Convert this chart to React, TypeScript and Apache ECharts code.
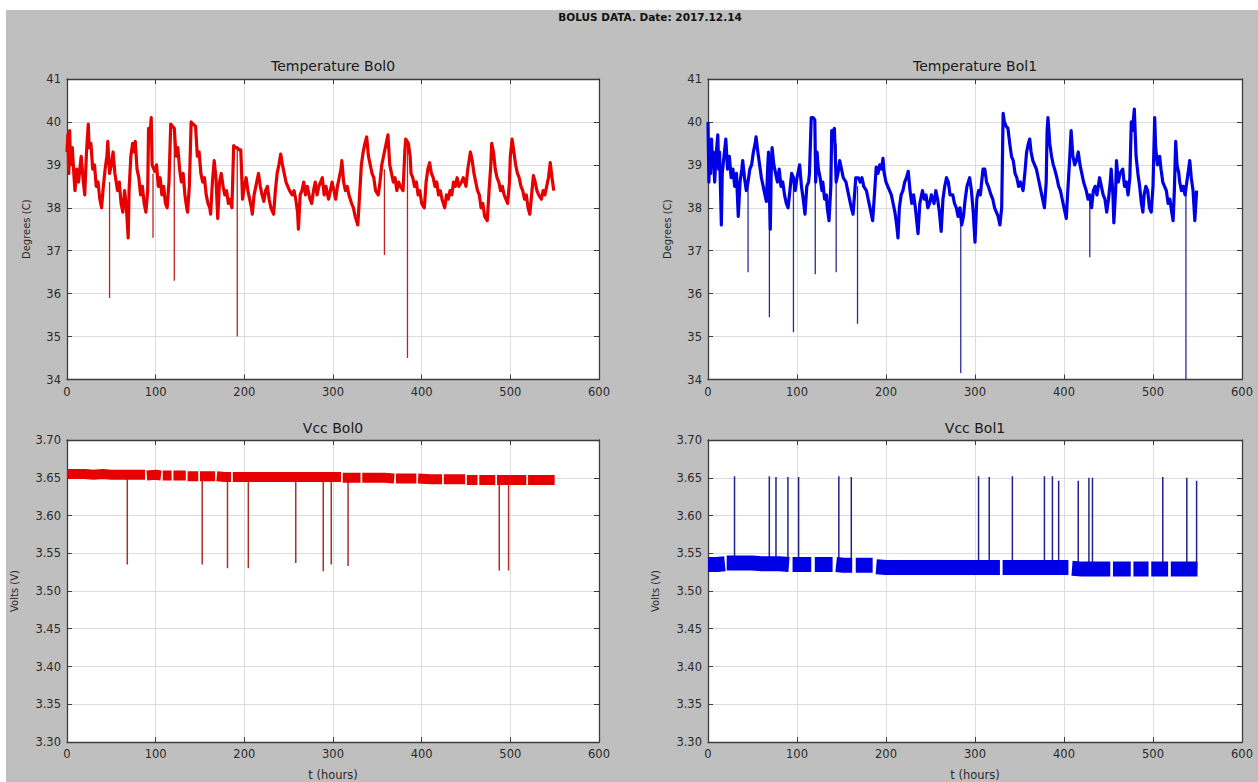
import { useEffect, useRef } from "react";
import * as echarts from "echarts";

const mainTitle = "BOLUS DATA. Date: 2017.12.14";
const panelTitles = ["Temperature Bol0", "Temperature Bol1", "Vcc Bol0", "Vcc Bol1"];
const yNames = ["Degrees (C)", "Degrees (C)", "Volts (V)", "Volts (V)"];
const xName = "t (hours)";
const xRange = { min: 0, max: 600, interval: 100 };
const tempRange = { min: 34, max: 41, interval: 1 };
const vccRange = { min: 3.3, max: 3.7, interval: 0.05 };

type P = [number, number | string];

// Temperature Bol0: [hours, degrees C]
const tempBol0: P[] = [
  [0, 39.3], [1, 39.7], [2, 38.8], [3, 39.8], [4, 39.0], [6, 39.4], [8, 38.7], [9, 38.4], [11, 38.9], [13, 38.6],
  [15, 39.0], [16, 39.2], [18, 38.7], [20, 38.3], [22, 39.3], [24, 39.95], [25, 39.4], [27, 39.5], [29, 38.9], [31, 39.0],
  [33, 38.5], [35, 38.6], [37, 38.2], [39, 38.0], [41, 38.5], [43, 38.9], [45, 39.2], [46, 39.55], [48, 38.8], [50, 39.0],
  [52, 39.3], [54, 38.8], [57, 38.4], [59, 38.6], [61, 38.1], [63, 37.9], [65, 38.4], [67, 38.0], [69, 37.3], [70, 38.4],
  [72, 39.2], [74, 39.5], [76, 39.3], [77, 39.55], [79, 38.9], [81, 38.7], [83, 38.3], [85, 38.5], [87, 38.1], [89, 37.9],
  [91, 38.4], [92, 39.85], [94, 39.8], [95, 40.1], [96, 39.0], [99, 38.85], [101, 39.0], [103, 38.5], [105, 38.7], [107, 38.3],
  [109, 38.5], [111, 38.1], [113, 38.0], [115, 38.6], [117, 39.95], [119, 39.9], [121, 39.85], [123, 39.2], [125, 39.4], [127, 38.9],
  [129, 38.6], [131, 38.8], [133, 38.3], [135, 38.0], [136, 37.9], [138, 38.5], [140, 40.0], [142, 39.95], [145, 39.9], [147, 39.2],
  [149, 39.3], [151, 38.8], [153, 38.6], [155, 38.7], [157, 38.3], [159, 38.1], [161, 38.0], [162, 37.85], [164, 38.6], [166, 39.1],
  [168, 38.7], [170, 37.75], [172, 38.6], [174, 38.8], [176, 38.5], [178, 38.3], [180, 38.4], [182, 38.1], [184, 38.2], [186, 38.0],
  [188, 39.45], [190, 39.4], [192, 39.4], [194, 39.35], [196, 39.35], [198, 38.2], [200, 38.5], [202, 38.7], [204, 38.4], [206, 38.2],
  [208, 38.0], [209, 37.85], [211, 38.3], [213, 38.5], [216, 38.8], [218, 38.5], [220, 38.3], [222, 38.15], [224, 38.4], [226, 38.5],
  [228, 38.2], [230, 38.0], [233, 37.85], [235, 38.4], [237, 38.8], [239, 39.0], [241, 39.25], [243, 39.0], [245, 38.8], [247, 38.6],
  [249, 38.5], [251, 38.4], [254, 38.3], [256, 38.4], [258, 38.2], [260, 37.9], [261, 37.5], [263, 38.3], [265, 38.4], [267, 38.6],
  [269, 38.3], [271, 38.5], [274, 38.2], [276, 38.1], [278, 38.4], [280, 38.6], [282, 38.3], [284, 38.5], [286, 38.6], [288, 38.7],
  [290, 38.3], [292, 38.5], [295, 38.2], [297, 38.4], [299, 38.6], [301, 38.4], [303, 38.2], [305, 38.5], [307, 38.7], [309, 38.9],
  [310, 39.1], [312, 38.6], [314, 38.4], [316, 38.5], [318, 38.3], [321, 38.1], [323, 38.0], [325, 37.8], [328, 37.6], [330, 38.3],
  [332, 39.0], [334, 39.3], [336, 39.5], [338, 39.65], [340, 39.2], [342, 39.0], [344, 38.8], [346, 38.7], [348, 38.4], [351, 38.3],
  [353, 38.6], [355, 39.0], [357, 39.2], [360, 39.5], [362, 39.7], [364, 39.0], [366, 38.8], [368, 38.6], [370, 38.7], [372, 38.4],
  [374, 38.6], [376, 38.5], [379, 38.4], [381, 39.3], [382, 39.6], [385, 39.5], [387, 39.2], [388, 38.8], [390, 38.7], [392, 38.5],
  [394, 38.6], [396, 38.3], [398, 38.4], [400, 38.1], [403, 38.0], [405, 38.6], [407, 38.9], [409, 39.05], [411, 38.8], [413, 38.7],
  [415, 38.5], [417, 38.6], [419, 38.3], [421, 38.4], [423, 38.2], [426, 38.0], [428, 38.3], [430, 38.2], [432, 38.4], [434, 38.3],
  [436, 38.6], [438, 38.5], [440, 38.7], [442, 38.5], [445, 38.6], [447, 38.7], [450, 38.5], [452, 38.9], [455, 39.3], [457, 39.1],
  [459, 38.8], [461, 38.6], [463, 38.4], [465, 38.3], [467, 38.0], [469, 38.1], [471, 37.8], [474, 37.7], [476, 38.4], [478, 39.0],
  [479, 39.5], [481, 39.3], [483, 38.9], [485, 38.7], [487, 38.6], [489, 38.4], [491, 38.5], [493, 38.3], [495, 38.2], [497, 38.1],
  [499, 38.6], [500, 39.2], [502, 39.6], [504, 39.3], [506, 39.0], [508, 38.8], [510, 38.7], [512, 38.5], [514, 38.4], [516, 38.2],
  [518, 38.3], [520, 38.0], [522, 37.85], [524, 38.3], [526, 38.75], [528, 38.6], [530, 38.4], [532, 38.3], [535, 38.2], [537, 38.4],
  [539, 38.3], [541, 38.5], [543, 38.7], [545, 39.05], [547, 38.7], [549, 38.4],
];
// [hours, from, to]
const tempBol0Dips: [number, number, number][] = [
  [48, 38.6, 35.9], [97, 38.8, 37.3], [121, 39.8, 36.3], [192, 39.4, 35.0], [358, 38.9, 36.9], [384, 39.5, 34.5],
];

// Temperature Bol1
const tempBol1: P[] = [
  [0, 40.0], [1, 38.6], [2, 39.6], [3, 38.8], [4, 39.6], [5, 39.0], [6, 39.3], [7.5, 38.6], [9, 39.2], [11, 39.7],
  [12, 38.9], [13, 39.3], [15, 37.6], [16, 38.8], [18, 39.2], [20, 39.6], [22, 38.9], [24, 39.2], [26, 38.7], [28, 38.9],
  [30, 38.5], [32, 38.8], [34, 37.8], [36, 38.6], [38, 38.9], [39, 39.1], [41, 38.7], [43, 38.4], [45, 38.6], [47, 38.9],
  [49, 39.0], [51, 39.3], [53, 39.5], [54, 39.65], [56, 39.3], [58, 39.0], [60, 38.7], [62, 38.5], [64, 38.3], [65.6, 38.15],
  [67, 38.9], [68, 39.3], [69, 38.3], [70, 37.5], [71, 38.8], [72, 39.4], [74, 39.0], [76, 38.8], [78, 38.6], [80, 38.9],
  [82, 38.5], [84, 38.6], [86, 38.3], [88, 38.1], [90, 38.0], [92, 38.4], [94, 38.8], [96, 38.7], [98, 38.4], [100, 38.7],
  [103, 39.0], [105, 38.5], [107, 38.2], [109, 37.85], [111, 38.5], [113, 38.6], [114, 38.8], [116, 40.1], [118, 40.1], [120, 40.05],
  [121, 38.6], [122.5, 39.3], [124, 38.9], [126, 38.7], [128, 38.4], [129, 38.6], [131, 38.2], [133, 38.3], [134, 38.0], [136, 37.7],
  [138, 38.5], [139, 39.8], [141, 39.8], [142, 39.85], [144, 38.6], [146, 38.8], [148, 39.1], [150, 38.9], [152, 38.7], [155, 38.6],
  [157, 38.4], [159, 38.2], [161, 38.0], [163, 37.85], [165, 38.4], [166, 38.7], [169, 38.7], [171, 38.6], [173, 38.7], [175, 38.5],
  [178, 38.4], [180, 38.2], [182, 38.0], [185, 37.7], [187, 38.3], [189, 38.95], [191, 38.8], [193, 39.0], [195, 38.9], [196.6, 39.15],
  [198, 38.8], [200, 38.6], [202, 38.5], [204, 38.4], [206, 38.3], [208, 38.1], [210, 37.9], [212, 37.6], [213.5, 37.3], [215, 38.0],
  [217, 38.3], [219, 38.4], [221, 38.6], [223, 38.7], [225, 38.85], [227, 38.4], [229, 38.1], [231, 38.3], [233, 38.0], [236, 37.4],
  [238, 38.1], [241, 38.4], [243, 38.2], [245, 38.3], [247, 38.0], [249, 38.1], [251, 38.3], [254, 38.1], [256, 38.4], [258, 38.2],
  [260, 37.9], [262, 37.45], [264, 38.2], [266, 38.5], [268, 38.7], [270, 38.6], [272, 38.3], [275, 38.3], [277, 38.1], [279, 38.0],
  [281, 37.8], [283, 38.0], [285, 37.6], [287, 37.8], [289, 38.2], [291, 38.5], [294, 38.7], [296, 38.4], [298, 37.9], [300, 37.2],
  [302, 38.2], [304, 38.4], [306, 38.3], [308, 38.7], [309, 38.9], [311, 38.9], [313, 38.6], [315, 38.5], [316.5, 38.4], [318, 38.3],
  [320, 38.2], [322, 38.0], [324, 37.9], [326, 37.8], [328, 37.6], [330, 38.0], [331.6, 40.2], [333, 40.0], [335, 39.9], [337, 39.85],
  [339, 39.5], [341, 39.2], [343, 39.1], [345, 38.8], [347, 38.7], [349, 38.5], [351, 38.6], [354, 38.4], [356, 38.8], [358, 39.3],
  [360, 39.5], [361.5, 39.6], [363, 39.3], [365, 39.1], [367, 39.0], [369, 38.9], [371, 38.7], [373, 38.5], [375, 38.3], [378, 38.0],
  [380, 38.6], [381, 39.8], [382, 40.1], [384, 39.5], [386, 39.2], [388, 39.0], [389.5, 38.9], [392, 38.7], [394, 38.5], [396, 38.4],
  [398, 38.2], [400, 38.0], [402.6, 37.75], [404, 38.3], [406, 39.0], [408, 39.8], [410, 39.2], [412, 39.0], [414, 39.1], [416, 39.3],
  [418, 39.0], [420, 38.8], [422, 38.6], [425, 38.4], [427, 38.2], [429, 38.3], [431, 38.0], [433, 38.4], [435, 38.5], [437, 38.3],
  [440, 38.7], [442, 38.5], [444, 38.3], [446, 38.2], [448, 37.9], [450, 38.2], [452, 38.6], [453, 38.9], [455, 38.3], [456, 37.65],
  [458, 38.4], [459, 39.1], [461, 38.6], [463, 38.8], [466, 38.9], [468, 38.5], [470, 38.6], [472, 38.3], [474, 38.7], [475.6, 40.0],
  [477, 39.8], [479, 40.3], [481, 39.2], [483, 38.8], [485, 38.5], [487, 38.1], [488.6, 37.9], [490, 38.3], [492, 38.5], [494, 38.4],
  [496, 38.0], [498, 37.9], [500, 38.5], [501.9, 40.1], [503, 39.4], [505, 39.0], [507.5, 39.2], [509, 38.9], [511, 38.6], [513, 38.5],
  [515, 38.4], [517, 38.1], [519, 38.2], [521, 37.9], [522.6, 37.7], [524, 38.4], [525.5, 39.55], [527, 39.0], [529, 38.8], [530, 38.6],
  [532, 38.4], [534, 38.5], [536, 38.3], [538, 38.6], [540, 38.9], [541.3, 39.1], [543, 38.7], [545, 38.4], [547, 37.7], [549, 38.4],
];
const tempBol1Dips: [number, number, number][] = [
  [45, 38.6, 36.5], [69, 38.5, 35.45], [96, 38.7, 35.1], [120.5, 39.5, 36.45], [144, 39.5, 36.5],
  [168, 38.5, 35.3], [284, 38.0, 34.15], [429, 38.2, 36.85], [537, 38.4, 34.0],
];

// Vcc Bol0: [hours, volts], '-' marks a short gap in the record
const vccBol0: P[] = [
  [0, 3.655], [10, 3.655], [20, 3.655], [30, 3.654], [40, 3.655], [50, 3.654], [60, 3.654], [70, 3.654],
  [80, 3.654], [88, 3.654], [89, "-"], [90, 3.653], [100, 3.654], [106, 3.653], [107, "-"], [108, 3.653], [118, 3.653], [119, "-"],
  [120, 3.653], [128, 3.653], [134, 3.653], [135, "-"], [136, 3.652], [143, 3.652], [148, 3.652], [149, "-"], [150, 3.652], [158, 3.652],
  [167, 3.652], [168, "-"], [169, 3.652], [178, 3.651], [185, 3.651], [186, "-"], [187, 3.651], [200, 3.651], [215, 3.651], [230, 3.651],
  [245, 3.651], [260, 3.651], [275, 3.651], [290, 3.651], [300, 3.651], [309, 3.651], [310, "-"], [311, 3.650], [322, 3.650], [331, 3.650],
  [332, "-"], [333, 3.650], [345, 3.650], [358, 3.650], [369, 3.649], [370, "-"], [371, 3.649], [385, 3.649], [394, 3.649], [395, "-"],
  [396, 3.649], [410, 3.648], [423, 3.648], [424, "-"], [425, 3.648], [438, 3.648], [449, 3.648], [450, "-"], [451, 3.647], [463, 3.647],
  [464, "-"], [465, 3.647], [475, 3.647], [483, 3.647], [484, "-"], [485, 3.647], [500, 3.647], [510, 3.647], [518, 3.647], [519, "-"],
  [520, 3.647], [535, 3.647], [550, 3.647],
];
const vccBol0Dips: [number, number, number][] = [
  [68, 3.652, 3.535], [152.5, 3.652, 3.535], [181, 3.651, 3.53], [204.5, 3.651, 3.53], [258, 3.65, 3.537],
  [289, 3.65, 3.526], [298, 3.65, 3.535], [317, 3.65, 3.533], [487.5, 3.646, 3.527], [498, 3.646, 3.527],
];

// Vcc Bol1
const vccBol1: P[] = [
  [0, 3.535], [10, 3.535], [19, 3.536], [20, "-"], [21, 3.537], [30, 3.537], [40, 3.537],
  [50, 3.537], [60, 3.536], [70, 3.536], [80, 3.536], [91, 3.535], [93, "-"], [95, 3.535], [105, 3.535], [112, 3.535],
  [116, 3.535], [118, "-"], [120, 3.535], [130, 3.535], [140, 3.535], [142, "-"], [144, 3.535], [152, 3.534], [162, 3.534], [164, "-"],
  [166, 3.534], [176, 3.534], [185, 3.534], [187, "-"], [189, 3.532], [200, 3.531], [215, 3.531], [230, 3.531], [245, 3.531], [260, 3.531],
  [275, 3.531], [290, 3.531], [300, 3.531], [310, 3.531], [320, 3.531], [328, 3.531], [329, "-"], [331, 3.531], [345, 3.531], [360, 3.531],
  [372, 3.531], [380, 3.531], [390, 3.531], [405, 3.531], [407, "-"], [409, 3.530], [420, 3.529], [432, 3.529], [445, 3.529], [452, 3.529],
  [453, "-"], [455, 3.529], [466, 3.529], [475, 3.529], [476, "-"], [478, 3.529], [488, 3.529], [495, 3.529], [496, "-"], [498, 3.529],
  [510, 3.529], [517, 3.529], [518, "-"], [520, 3.529], [535, 3.529], [550, 3.529],
];
const vccBol1Spikes: [number, number, number][] = [
  [29.8, 3.537, 3.652], [68.9, 3.536, 3.652], [76.4, 3.536, 3.651], [89.8, 3.535, 3.651], [101.8, 3.535, 3.651],
  [147, 3.535, 3.652], [161, 3.534, 3.651], [304, 3.531, 3.652], [316, 3.531, 3.651], [342, 3.531, 3.652],
  [378, 3.531, 3.652], [387, 3.531, 3.652], [394, 3.531, 3.646], [416, 3.529, 3.646], [428, 3.529, 3.65],
  [432, 3.529, 3.65], [511, 3.529, 3.651], [538, 3.529, 3.65], [549, 3.529, 3.646],
];

const RED = "#e60000";
const BLUE = "#0000e6";

function spikeData(list: [number, number, number][]): P[] {
  const out: P[] = [];
  list.forEach(([t, a, b]) => {
    out.push([t, a], [t, b], [t, "-"]);
  });
  return out;
}

export default function App() {
  const ref = useRef<HTMLDivElement>(null);
  useEffect(() => {
    if (!ref.current) return;
    const chart = echarts.init(ref.current, null, { renderer: "svg" });
    const font = "DejaVu Sans";
    const grids = [
      { left: 67, top: 79, width: 532, height: 300.5 },
      { left: 708, top: 79, width: 534, height: 300.5 },
      { left: 67, top: 440, width: 532, height: 302.5 },
      { left: 708, top: 440, width: 534, height: 302.5 },
    ];
    const axisLine = { show: true, onZero: false, lineStyle: { color: "#3c3c3c", width: 1.3 } };
    const axisTick = { show: true, inside: true, length: 5, lineStyle: { color: "#3c3c3c", width: 1 } };
    const labelStyle = { color: "#2a2a2a", fontSize: 11.5, fontFamily: font };
    const gridLine = { show: true, lineStyle: { color: "#dcdcdc", width: 1 } };
    const xAxes: any[] = [];
    const yAxes: any[] = [];
    grids.forEach((_, i) => {
      const isVcc = i >= 2;
      xAxes.push({
        type: "value", gridIndex: i, position: "bottom", ...xRange,
        axisLine, axisTick,
        axisLabel: { ...labelStyle, margin: 6, showMinLabel: true, showMaxLabel: true },
        splitLine: gridLine,
        name: isVcc ? xName : "", nameLocation: "middle", nameGap: 27,
        nameTextStyle: { color: "#2a2a2a", fontSize: 11.5, fontFamily: font },
      });
      yAxes.push({
        type: "value", gridIndex: i, position: "left", ...(isVcc ? vccRange : tempRange),
        axisLine, axisTick,
        axisLabel: {
          ...labelStyle, margin: 6, showMinLabel: true, showMaxLabel: true,
          formatter: (v: number) => (isVcc ? v.toFixed(2) : String(Math.round(v))),
        },
        splitLine: gridLine,
        name: yNames[i], nameLocation: "middle", nameRotate: 90, nameGap: isVcc ? 48 : 36,
        nameTextStyle: { color: "#2a2a2a", fontSize: 10, fontFamily: font },
      });
    });
    grids.forEach((_, i) => {
      const isVcc = i >= 2;
      xAxes.push({
        type: "value", gridIndex: i, position: "top", ...xRange,
        axisLine, axisTick, axisLabel: { show: false }, splitLine: { show: false },
      });
      yAxes.push({
        type: "value", gridIndex: i, position: "right", ...(isVcc ? vccRange : tempRange),
        axisLine, axisTick, axisLabel: { show: false }, splitLine: { show: false },
      });
    });

    const line = (idx: number, data: P[], color: string, width: number, z = 2, join = "round") => ({
      type: "line", xAxisIndex: idx, yAxisIndex: idx, data, showSymbol: false, symbol: "none",
      connectNulls: false, clip: true, z,
      lineStyle: { color, width, cap: "butt", join }, itemStyle: { color },
      emphasis: { disabled: true },
    });

    const titlePos = [
      [333, 66], [975, 66], [333, 428], [975, 428],
    ];

    chart.setOption({
      animation: false,
      backgroundColor: "#bfbfbf",
      grid: grids.map((g) => ({ ...g, show: true, backgroundColor: "#ffffff", borderWidth: 0, containLabel: false })),
      xAxis: xAxes,
      yAxis: yAxes,
      graphic: [
        { type: "rect", shape: { x: 0, y: 0, width: 1258, height: 10 }, style: { fill: "#ffffff" }, silent: true },
        { type: "rect", shape: { x: 0, y: 0, width: 6, height: 782 }, style: { fill: "#ffffff" }, silent: true },
        {
          type: "text", x: 650, y: 17,
          style: { text: mainTitle, fill: "#111", font: `bold 10.5px "${font}"`, textAlign: "center", textVerticalAlign: "middle" },
        },
        ...panelTitles.map((t, i) => ({
          type: "text", x: titlePos[i][0], y: titlePos[i][1],
          style: { text: t, fill: "#1a1a1a", font: `14px "${font}"`, textAlign: "center", textVerticalAlign: "middle" },
        })),
      ],
      series: [
        line(0, tempBol0, RED, 3.2),
        line(0, spikeData(tempBol0Dips), "#c02020", 1.3, 1),
        line(1, tempBol1, BLUE, 3.2),
        line(1, spikeData(tempBol1Dips), "#2a2a9a", 1.3, 1),
        line(2, vccBol0, RED, 10, 2, "bevel"),
        line(2, spikeData(vccBol0Dips), "#a83030", 1.5, 1),
        line(3, vccBol1, BLUE, 15, 2, "bevel"),
        line(3, spikeData(vccBol1Spikes), "#22228a", 1.5, 1),
      ],
    });
    return () => chart.dispose();
  }, []);
  return (
    <div
      ref={ref}
      style={{ position: "fixed", left: 0, top: 0, width: 1258, height: 782 }}
    />
  );
}
